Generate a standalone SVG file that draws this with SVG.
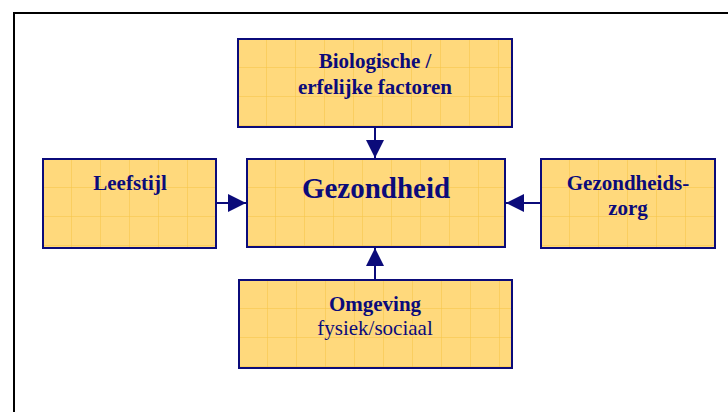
<svg xmlns="http://www.w3.org/2000/svg" width="728" height="412" viewBox="0 0 728 412">
<style>
.box{fill:url(#grid);stroke:#0B0B7A;stroke-width:2}
.t{font-family:"Liberation Serif","Times New Roman",serif;fill:#0B0B7A;text-anchor:middle}
.b{font-weight:bold;font-size:21px}
.n{font-size:21px}
.big{font-weight:bold;font-size:29px}
.conn{stroke:#0B0B7A;stroke-width:2;fill:none;marker-end:url(#ah)}
</style>
<defs>
<pattern id="grid" patternUnits="userSpaceOnUse" x="0" y="0" width="29" height="29">
<rect width="29" height="29" fill="#FFD97C"/>
<path d="M29 0V29M0 29H29" stroke="#F6C444" stroke-width="1" fill="none"/>
</pattern>
<marker id="ah" markerUnits="userSpaceOnUse" markerWidth="18" markerHeight="18" refX="16" refY="8" orient="auto" viewBox="0 0 16 16">
<path d="M0 0L16 8L0 16Z" fill="#0B0B7A"/>
</marker>
</defs>
<rect width="728" height="412" fill="#FFFFFF"/>
<path d="M14 412V13H728" fill="none" stroke="#000" stroke-width="2"/>
<g id="connectors">
<line class="conn" x1="375" y1="127" x2="375" y2="158"/>
<line class="conn" x1="216" y1="203" x2="246" y2="203"/>
<line class="conn" x1="541" y1="203" x2="506" y2="203"/>
<line class="conn" x1="375" y1="280" x2="375" y2="248"/>
</g>
<g id="biologische" transform="translate(238,39)">
<rect class="box" width="274" height="88"/>
<text class="t b" x="137" y="29">Biologische /</text>
<text class="t b" x="137" y="55">erfelijke factoren</text>
</g>
<g id="gezondheid" transform="translate(247,159)">
<rect class="box" width="258" height="88"/>
<text class="t big" x="129" y="39">Gezondheid</text>
</g>
<g id="leefstijl" transform="translate(43,159)">
<rect class="box" width="173" height="89"/>
<text class="t b" x="87" y="31">Leefstijl</text>
</g>
<g id="gezondheidszorg" transform="translate(541,159)">
<rect class="box" width="174" height="89"/>
<text class="t b" x="87" y="31">Gezondheids-</text>
<text class="t b" x="87" y="56">zorg</text>
</g>
<g id="omgeving" transform="translate(239,280)">
<rect class="box" width="273" height="88"/>
<text class="t b" x="136" y="31">Omgeving</text>
<text class="t n" x="136" y="55">fysiek/sociaal</text>
</g>
</svg>
